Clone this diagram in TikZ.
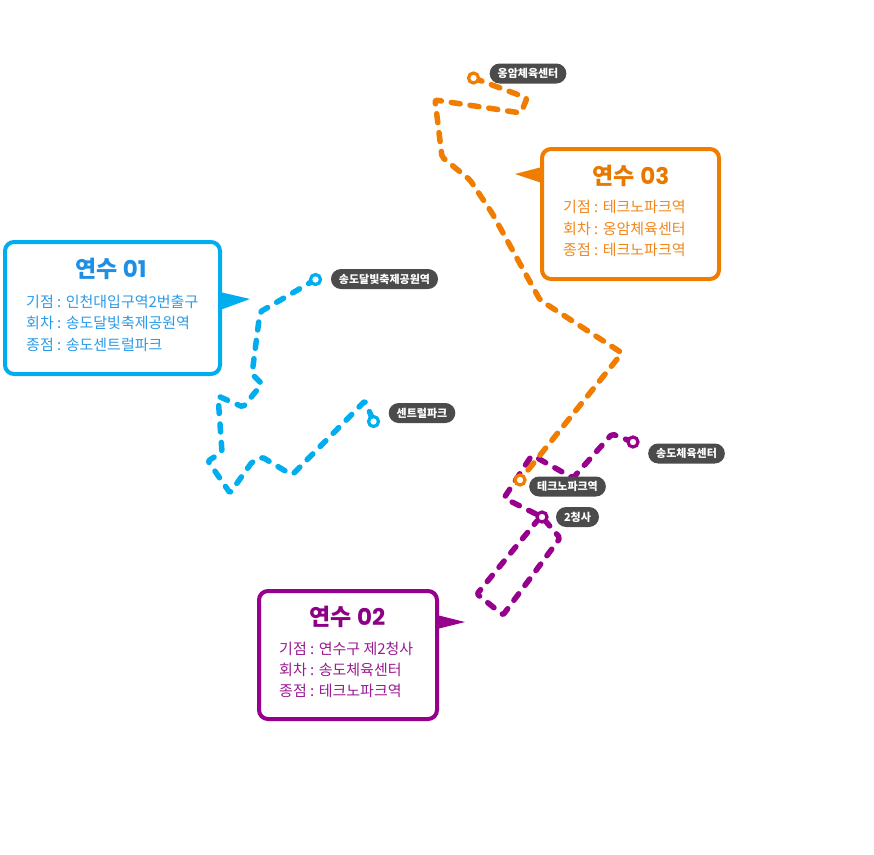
\documentclass[tikz,border=0pt]{standalone}
\usepackage{fontspec}
\setmainfont{Noto Sans CJK KR}
\newfontfamily\digf{Poppins}
\definecolor{cblue}{HTML}{00AEEF}
\definecolor{cbluet}{HTML}{1E8FE6}
\definecolor{cbluetx}{HTML}{2A9BE8}
\definecolor{corange}{HTML}{F07D00}
\definecolor{coranget}{HTML}{E87800}
\definecolor{corangetx}{HTML}{F0871C}
\definecolor{cpurple}{HTML}{96008C}
\definecolor{cpurplet}{HTML}{8C0086}
\definecolor{cpurpletx}{HTML}{9A1A92}
\definecolor{pillgray}{HTML}{4B4B4B}
\begin{document}
\begin{tikzpicture}[x=1pt,y=-1pt,
  route/.style={line width=5.5pt, line cap=round, line join=round, dash pattern=on 8pt off 10.5pt, rounded corners=2pt},
  stopc/.style={circle, draw=#1, fill=white, line width=3.2pt, minimum size=10pt, inner sep=0pt},
  pill/.style={fill=pillgray, text=white, rounded corners=10pt, minimum height=20pt, inner xsep=8pt, inner ysep=0pt, font=\bfseries\fontsize{11}{13}\selectfont},
  callout/.style={draw=#1, line width=4pt, rounded corners=9pt, fill=white, inner sep=0pt},
  ttl/.style={font=\bfseries\fontsize{23}{27}\selectfont, inner sep=0pt},
  body/.style={font=\fontsize{15}{18}\selectfont, inner sep=0pt, anchor=west}]
\useasboundingbox (0,0) rectangle (874,854);
\fill[white] (0,0) rectangle (874,854);

% stop coordinates
\coordinate (b1) at (315.5,279.5);
\coordinate (b2) at (373.5,421.5);
\coordinate (o1) at (473.5,78);
\coordinate (o2) at (520,480);
\coordinate (p1) at (633,442);
\coordinate (p2) at (542,517);

% routes
\draw[route, cblue] (b1) -- (260,312) -- (252,374) -- (262,384) -- (243,407) -- (218,396) -- (222,452) -- (208,461) -- (230,493) -- (252,462) -- (262,457) -- (292,475) -- (365,401) -- (b2);
\draw[route, cpurple] (p1) -- (612,434) -- (573,478) -- (532,455) -- (504,498) -- (p2) -- (560,538) -- (503,615) -- (477,594) -- (537,521);
\draw[route, corange, dash pattern=on 9pt off 10pt] (o1) -- (527,98) -- (521,113) -- (435,100) -- (442,157) -- (470,180) -- (492,213) -- (540,300) -- (622,353) -- (o2);

% stop markers
\node[stopc=cblue] (sb1) at (b1) {};
\node[stopc=cblue] (sb2) at (b2) {};
\node[stopc=corange] (so1) at (o1) {};
\node[stopc=corange] (so2) at (o2) {};
\node[stopc=cpurple] (sp1) at (p1) {};
\node[stopc=cpurple] (sp2) at (p2) {};

% labels
\node[pill] (l1) at (528,73.5) {옹암체육센터};
\node[pill] (l2) at (384.5,279) {송도달빛축제공원역};
\node[pill] (l3) at (422,413) {센트럴파크};
\node[pill] (l4) at (686.5,453.5) {송도체육센터};
\node[pill] (l5) at (567.5,486.5) {테크노파크역};
\node[pill] (l6) at (577.5,517) {2청사};

% callout 01
\node[callout=cblue, minimum width=215pt, minimum height=132pt] (c1) at (112.5,308) {};
\fill[cblue] (220,292) -- (250,299) -- (220,310) -- cycle;
\node[ttl, text=cbluet] (t1) at (111,269) {연수 {\digf 01}};
\node[body, text=cbluetx] (t1a) at (26,301.5) {기점 : 인천대입구역2번출구};
\node[body, text=cbluetx] (t1b) at (26,323) {회차 : 송도달빛축제공원역};
\node[body, text=cbluetx] (t1c) at (26,344.5) {종점 : 송도센트럴파크};

% callout 03
\node[callout=corange, minimum width=177pt, minimum height=130pt] (c3) at (630.5,214) {};
\fill[corange] (542,167) -- (515,174) -- (542,183) -- cycle;
\node[ttl, text=coranget] (t3) at (631,176) {연수 {\digf 03}};
\node[body, text=corangetx] (t3a) at (563,207) {기점 : 테크노파크역};
\node[body, text=corangetx] (t3b) at (563,228.5) {회차 : 옹암체육센터};
\node[body, text=corangetx] (t3c) at (563,250) {종점 : 테크노파크역};

% callout 02
\node[callout=cpurple, minimum width=178pt, minimum height=128pt] (c2) at (348,655) {};
\fill[cpurple] (437,615) -- (465,622) -- (437,629) -- cycle;
\node[ttl, text=cpurplet] (t2) at (347.5,616.5) {연수 {\digf 02}};
\node[body, text=cpurpletx] (t2a) at (279,649) {기점 : 연수구 제2청사};
\node[body, text=cpurpletx] (t2b) at (279,670) {회차 : 송도체육센터};
\node[body, text=cpurpletx] (t2c) at (279,691) {종점 : 테크노파크역};
\end{tikzpicture}
\end{document}
